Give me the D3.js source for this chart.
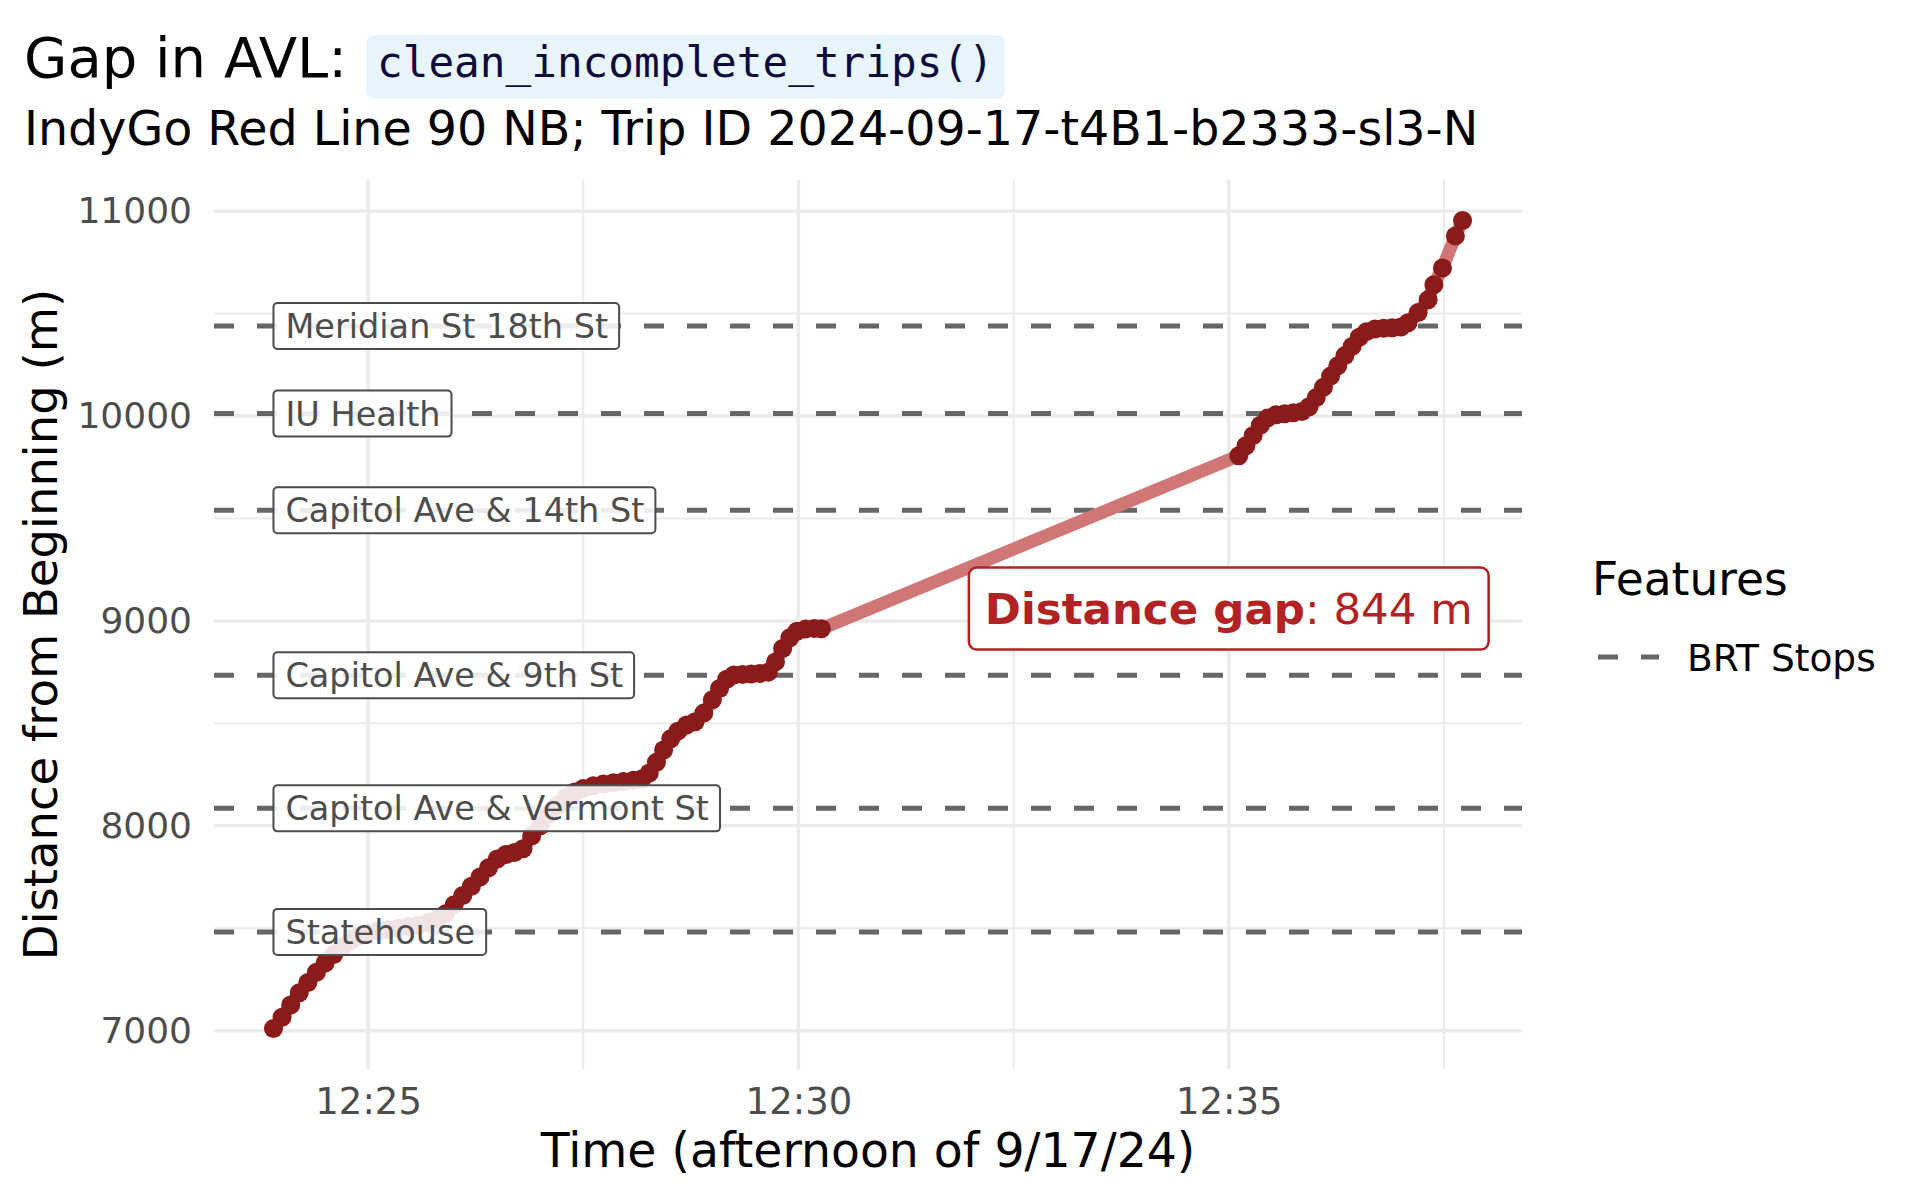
<!DOCTYPE html>
<html>
<head>
<meta charset="utf-8">
<script src="https://cdn.jsdelivr.net/npm/d3@7"></script>
<style>
  body { margin: 0; background: #fff; }
  svg { display: block; font-family: "DejaVu Sans", sans-serif; }
</style>
</head>
<body>
<svg id="chart" width="1920" height="1200"></svg>
<script>
// AVL pings for the trip (time of day, metres from start of route)
const pingTimes = [
  "12:23:54","12:24:00","12:24:06","12:24:12","12:24:18","12:24:24","12:24:30","12:24:36",
  "12:24:42","12:24:48","12:24:54","12:25:00","12:25:07","12:25:14","12:25:21","12:25:28",
  "12:25:35","12:25:42","12:25:48","12:25:54","12:26:00","12:26:06","12:26:12","12:26:18",
  "12:26:24","12:26:30","12:26:36","12:26:42","12:26:48","12:26:54","12:27:00","12:27:06",
  "12:27:12","12:27:18","12:27:24","12:27:30","12:27:37","12:27:44","12:27:51","12:27:58",
  "12:28:05","12:28:11","12:28:16","12:28:21","12:28:26","12:28:31","12:28:36","12:28:42",
  "12:28:48","12:28:54","12:29:00","12:29:05","12:29:10","12:29:15","12:29:21","12:29:27",
  "12:29:33","12:29:39","12:29:44","12:29:49","12:29:54","12:29:59","12:30:05","12:30:11",
  "12:30:16",
  "12:35:07","12:35:12","12:35:17","12:35:22","12:35:27","12:35:33","12:35:39","12:35:45",
  "12:35:51","12:35:56","12:36:01","12:36:06","12:36:11","12:36:16","12:36:21","12:36:26",
  "12:36:31","12:36:36","12:36:42","12:36:48","12:36:54","12:37:00","12:37:05","12:37:12",
  "12:37:19","12:37:23","12:37:29","12:37:38","12:37:43"
];
const pingDist = [
  7010, 7065, 7125, 7185, 7235, 7285, 7330, 7372,
  7410, 7440, 7462, 7476, 7486, 7494, 7500, 7508,
  7516, 7528, 7542, 7570, 7615, 7660, 7705, 7750,
  7795, 7838, 7860, 7870, 7888, 7950, 8000, 8055,
  8100, 8138, 8165, 8182, 8195, 8204, 8210, 8216,
  8222, 8230, 8258, 8310, 8370, 8425, 8462, 8492,
  8508, 8550, 8615, 8670, 8715, 8736, 8739, 8741,
  8743, 8750, 8800, 8865, 8918, 8950, 8961, 8963,
  8962,
  9806, 9855, 9905, 9955, 9990, 10006, 10011, 10016,
  10022, 10045, 10090, 10140, 10195, 10245, 10295, 10340,
  10385, 10412, 10425, 10429, 10431, 10435, 10455, 10505,
  10568, 10641, 10723, 10879, 10955
];

// BRT stops on the Red Line (metres from start)
const stopNames = ["Statehouse", "Capitol Ave & Vermont St", "Capitol Ave & 9th St",
                   "Capitol Ave & 14th St", "IU Health", "Meridian St 18th St"];
const stopDist = [7482, 8085, 8735, 9540, 10012, 10440];

const yMajor = [7000, 8000, 9000, 10000, 11000];
const yMinor = [7500, 8500, 9500, 10500];
const xMajor = ["12:25:00", "12:30:00", "12:35:00"];
const xMinor = ["12:27:30", "12:32:30", "12:37:30"];

const gapLabelTime = "12:35:00";
const gapLabelDist = 9060;

const day = "2024-09-17 ";
const parseT = d3.timeParse("%Y-%m-%d %H:%M:%S");

const data = pingTimes.map((t, i) => ({ t: parseT(day + t), d: pingDist[i] }));

const panel = { left: 214, right: 1522, top: 180, bottom: 1069 };
const svg = d3.select("#chart");

// ggplot-style 5% expansion
const tExt = d3.extent(data, d => d.t);
const tPad = (tExt[1] - tExt[0]) * 0.05;
const x = d3.scaleTime()
  .domain([new Date(+tExt[0] - tPad), new Date(+tExt[1] + tPad)])
  .range([panel.left, panel.right]);

const dExt = d3.extent(data, d => d.d);
const dPad = (dExt[1] - dExt[0]) * 0.05;
const y = d3.scaleLinear()
  .domain([dExt[0] - dPad, dExt[1] + dPad])
  .range([panel.bottom, panel.top]);

// grid
const grid = svg.append("g");
grid.selectAll(".ymin").data(yMinor).join("line")
  .attr("x1", panel.left).attr("x2", panel.right)
  .attr("y1", d => y(d)).attr("y2", d => y(d))
  .attr("stroke", "#ebebeb").attr("stroke-width", 2);
grid.selectAll(".xmin").data(xMinor).join("line")
  .attr("x1", d => x(parseT(day + d))).attr("x2", d => x(parseT(day + d)))
  .attr("y1", panel.top).attr("y2", panel.bottom)
  .attr("stroke", "#ebebeb").attr("stroke-width", 2);
grid.selectAll(".ymaj").data(yMajor).join("line")
  .attr("x1", panel.left).attr("x2", panel.right)
  .attr("y1", d => y(d)).attr("y2", d => y(d))
  .attr("stroke", "#ebebeb").attr("stroke-width", 3.5);
grid.selectAll(".xmaj").data(xMajor).join("line")
  .attr("x1", d => x(parseT(day + d))).attr("x2", d => x(parseT(day + d)))
  .attr("y1", panel.top).attr("y2", panel.bottom)
  .attr("stroke", "#ebebeb").attr("stroke-width", 3.5);

// axes
const yAxis = svg.append("g")
  .attr("transform", `translate(${panel.left},0)`)
  .call(d3.axisLeft(y).tickValues(yMajor).tickSize(0).tickPadding(22).tickFormat(d3.format("d")));
yAxis.select(".domain").remove();
yAxis.selectAll("text").attr("font-size", 36).attr("fill", "#4d4d4d")
  .attr("font-family", "DejaVu Sans");

const xAxis = svg.append("g")
  .attr("transform", `translate(0,${panel.bottom})`)
  .call(d3.axisBottom(x).tickValues(xMajor.map(t => parseT(day + t))).tickSize(0).tickPadding(19)
    .tickFormat(d3.timeFormat("%H:%M")));
xAxis.select(".domain").remove();
xAxis.selectAll("text").attr("font-size", 37).attr("fill", "#4d4d4d")
  .attr("font-family", "DejaVu Sans");

// stop lines
svg.append("g").selectAll("line").data(stopDist).join("line")
  .attr("x1", panel.left).attr("x2", panel.right)
  .attr("y1", d => y(d)).attr("y2", d => y(d))
  .attr("stroke", "#666666").attr("stroke-width", 5)
  .attr("stroke-dasharray", "20,23");

// trip path + pings
svg.append("path")
  .datum(data)
  .attr("fill", "none")
  .attr("stroke", "#d07676")
  .attr("stroke-width", 13)
  .attr("stroke-linecap", "round")
  .attr("d", d3.line().x(d => x(d.t)).y(d => y(d.d)));

svg.append("g").selectAll("circle").data(data).join("circle")
  .attr("cx", d => x(d.t)).attr("cy", d => y(d.d))
  .attr("r", 9.5)
  .attr("fill", "#8b1a1a");

// stop labels
const labels = svg.append("g").selectAll("g").data(stopNames).join("g")
  .attr("transform", (d, i) => `translate(${x(tExt[0])},${y(stopDist[i])})`);
labels.append("rect").attr("class", "bg");
labels.append("text")
  .attr("x", 12).attr("y", 0).attr("dy", "0.36em")
  .attr("font-size", 33.5).attr("fill", "#4d4d4d")
  .text(d => d);
labels.each(function () {
  const g = d3.select(this);
  const bb = g.select("text").node().getBBox();
  g.select("rect")
    .attr("x", 0).attr("y", -23)
    .attr("width", bb.width + 23).attr("height", 46)
    .attr("rx", 4)
    .attr("fill", "#fff").attr("fill-opacity", 0.88)
    .attr("stroke", "#4d4d4d").attr("stroke-width", 2);
});

// gap annotation
const gapG = svg.append("g")
  .attr("transform", `translate(${x(parseT(day + gapLabelTime))},${y(gapLabelDist)})`);
const gapRect = gapG.append("rect");
const gapText = gapG.append("text")
  .attr("text-anchor", "middle").attr("dy", "0.36em")
  .attr("font-size", 43.5).attr("fill", "#b22222");
gapText.append("tspan").attr("font-weight", "bold").text("Distance gap");
gapText.append("tspan").text(": 844 m");
const gbb = gapText.node().getBBox();
gapRect.attr("x", gbb.x - 16).attr("y", -41)
  .attr("width", gbb.width + 32).attr("height", 82)
  .attr("rx", 8).attr("fill", "#fff")
  .attr("stroke", "#b22222").attr("stroke-width", 2.5);

// titles
svg.append("text")
  .attr("x", 24).attr("y", 77)
  .attr("font-size", 56).attr("fill", "#000")
  .text("Gap in AVL:");
const codeG = svg.append("g");
const codeRect = codeG.append("rect");
const codeText = codeG.append("text")
  .attr("x", 377).attr("y", 77)
  .attr("font-family", "DejaVu Sans Mono").attr("font-size", 42.7)
  .attr("fill", "#0e0c3c")
  .text("clean_incomplete_trips()");
const cbb = codeText.node().getBBox();
codeRect.attr("x", 366).attr("y", 35).attr("width", cbb.width + 22).attr("height", 64)
  .attr("rx", 8).attr("fill", "#e8f5fe");

svg.append("text")
  .attr("x", 24).attr("y", 145)
  .attr("font-size", 47.5).attr("fill", "#000")
  .text("IndyGo Red Line 90 NB; Trip ID 2024-09-17-t4B1-b2333-sl3-N");

svg.append("text")
  .attr("x", (panel.left + panel.right) / 2).attr("y", 1167)
  .attr("text-anchor", "middle").attr("font-size", 47.3).attr("fill", "#000")
  .text("Time (afternoon of 9/17/24)");

svg.append("text")
  .attr("transform", `translate(57,${(panel.top + panel.bottom) / 2}) rotate(-90)`)
  .attr("text-anchor", "middle").attr("font-size", 46.5).attr("fill", "#000")
  .text("Distance from Beginning (m)");

// legend
const legend = svg.append("g").attr("transform", "translate(1592,0)");
legend.append("text").attr("x", 0).attr("y", 595)
  .attr("font-size", 45.5).attr("fill", "#000").text("Features");
legend.append("line")
  .attr("x1", 6).attr("x2", 67).attr("y1", 657).attr("y2", 657)
  .attr("stroke", "#666666").attr("stroke-width", 5).attr("stroke-dasharray", "20,23");
legend.append("text").attr("x", 95).attr("y", 657).attr("dy", "0.36em")
  .attr("font-size", 37.5).attr("fill", "#000").text("BRT Stops");
</script>
</body>
</html>
